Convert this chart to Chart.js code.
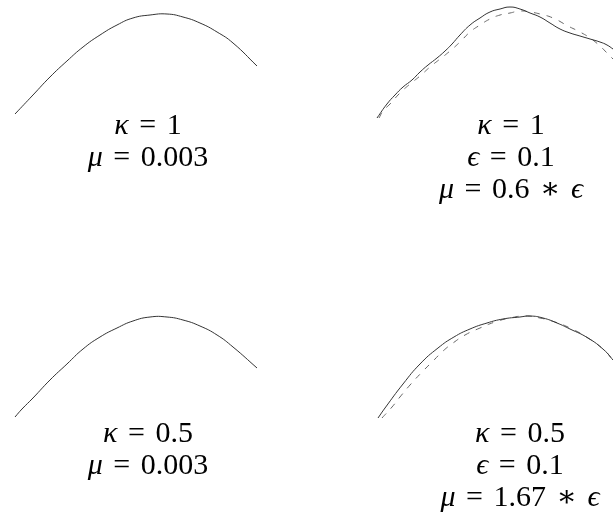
<!DOCTYPE html>
<html>
<head>
<meta charset="utf-8">
<script src="https://cdn.jsdelivr.net/npm/chart.js@4.4.1/dist/chart.umd.min.js"></script>
<style>
  html, body { margin: 0; padding: 0; background: #fff; }
  body { width: 613px; height: 518px; position: relative; overflow: hidden; }
  canvas { position: absolute; }
  .lbl {
    position: absolute; width: 260px; text-align: center;
    font-family: "Liberation Serif", "DejaVu Serif", serif;
    font-size: 30px; line-height: 32px; color: #000; white-space: nowrap;
    word-spacing: 3px;
  }
  .lbl i { font-style: italic; }
</style>
</head>
<body>
<script>
// Phase t (horizontal) and amplitude a (vertical) of each computed arc.
// Panel A: kappa = 1, mu = 0.003
const tA = [0, 0.195, 0.379, 0.563, 0.737, 0.921, 1.105, 1.278, 1.463, 1.647, 1.820, 2.004, 2.189, 2.362, 2.622];
const aA = [0, 0.19, 0.37, 0.53, 0.67, 0.79, 0.89, 0.96, 0.99, 1.00, 0.97, 0.91, 0.82, 0.71, 0.48];

// Panel B: kappa = 1, epsilon = 0.1, mu = 0.6*epsilon (two solutions)
const tB1 = [0, 0.108, 0.195, 0.282, 0.379, 0.466, 0.553, 0.650, 0.737, 0.813, 0.899, 1.008, 1.116, 1.224, 1.333, 1.441, 1.549, 1.658, 1.766, 1.874, 1.983, 2.091, 2.199, 2.308, 2.416, 2.492, 2.557];
const aB1 = [0, 0.14, 0.23, 0.31, 0.38, 0.46, 0.53, 0.60, 0.67, 0.74, 0.83, 0.93, 1.00, 1.06, 1.09, 1.11, 1.09, 1.05, 1.01, 0.95, 0.89, 0.85, 0.82, 0.79, 0.76, 0.73, 0.69];
const tB2 = [0.022, 0.065, 0.141, 0.249, 0.358, 0.466, 0.574, 0.683, 0.791, 0.899, 1.008, 1.116, 1.224, 1.333, 1.441, 1.549, 1.658, 1.766, 1.907, 2.069, 2.199, 2.308, 2.416, 2.492, 2.557];
const aB2 = [0, 0.07, 0.14, 0.25, 0.34, 0.42, 0.51, 0.59, 0.67, 0.76, 0.86, 0.93, 0.99, 1.03, 1.05, 1.07, 1.06, 1.04, 1.00, 0.92, 0.86, 0.80, 0.72, 0.65, 0.59];

// Panel C: kappa = 0.5, mu = 0.003
const tC = [0, 0.076, 0.195, 0.379, 0.563, 0.737, 0.921, 1.105, 1.278, 1.463, 1.647, 1.820, 2.004, 2.189, 2.362, 2.622];
const aC = [0, 0.08, 0.19, 0.37, 0.53, 0.68, 0.80, 0.89, 0.96, 1.00, 1.00, 0.97, 0.91, 0.82, 0.70, 0.49];

// Panel D: kappa = 0.5, epsilon = 0.1, mu = 1.67*epsilon (two solutions)
const tD1 = [0, 0.076, 0.271, 0.455, 0.650, 0.823, 0.997, 1.181, 1.354, 1.538, 1.647, 1.788, 1.939, 2.080, 2.275, 2.449, 2.546];
const aD1 = [0, 0.10, 0.34, 0.54, 0.70, 0.81, 0.89, 0.95, 0.99, 1.01, 1.02, 1.00, 0.95, 0.89, 0.80, 0.68, 0.58];
const tD2 = [0.043, 0.152, 0.238, 0.347, 0.488, 0.586, 0.705, 0.813, 0.943, 1.105, 1.268, 1.430, 1.593, 1.755, 1.918, 2.080, 2.275, 2.449, 2.546];
const aD2 = [0, 0.11, 0.21, 0.33, 0.47, 0.56, 0.67, 0.75, 0.83, 0.90, 0.96, 1.00, 1.02, 1.00, 0.96, 0.90, 0.80, 0.68, 0.58];

// Label lines for each panel
const labelsA = ['<i>κ</i> = 1', '<i>μ</i> = 0.003'];
const labelsB = ['<i>κ</i> = 1', '<i>ϵ</i> = 0.1', '<i>μ</i> = 0.6 ∗ <i>ϵ</i>'];
const labelsC = ['<i>κ</i> = 0.5', '<i>μ</i> = 0.003'];
const labelsD = ['<i>κ</i> = 0.5', '<i>ϵ</i> = 0.1', '<i>μ</i> = 1.67 ∗ <i>ϵ</i>'];

// Layout: pixel origin (t=0, a=0) of each panel and the common scale
const PX_PER_T = 92.3, PX_PER_A = 100;
const CW = 262, CH = 135, PADL = 10, PADT = 125;

function pts(t, a) { return t.map((v, i) => ({ x: v, y: a[i] })); }

function panel(ox, oy, series) {
  const cv = document.createElement('canvas');
  cv.width = CW; cv.height = CH;
  cv.style.left = (ox - PADL) + 'px';
  cv.style.top = (oy - PADT) + 'px';
  document.body.appendChild(cv);
  const xmin = -PADL / PX_PER_T, xmax = xmin + CW / PX_PER_T;
  const ymax = PADT / PX_PER_A, ymin = ymax - CH / PX_PER_A;
  new Chart(cv, {
    type: 'scatter',
    data: {
      datasets: series.map(s => ({
        data: pts(s.t, s.a),
        showLine: true,
        pointRadius: 0,
        borderWidth: 1,
        borderColor: s.dash ? '#666' : '#333',
        borderDash: s.dash || [],
        tension: 0.5,
        clip: false
      }))
    },
    options: {
      responsive: false,
      animation: false,
      events: [],
      layout: { padding: 0 },
      plugins: { legend: { display: false }, tooltip: { enabled: false } },
      scales: {
        x: { type: 'linear', display: false, min: xmin, max: xmax },
        y: { type: 'linear', display: false, min: ymin, max: ymax }
      }
    }
  });
}

function label(cx, top, lines) {
  const d = document.createElement('div');
  d.className = 'lbl';
  d.style.left = (cx - 130) + 'px';
  d.style.top = top + 'px';
  d.innerHTML = lines.join('<br>');
  document.body.appendChild(d);
}

panel(15, 114, [{ t: tA, a: aA }]);
panel(377, 118, [{ t: tB1, a: aB1 }, { t: tB2, a: aB2, dash: [6, 7] }]);
panel(15, 417, [{ t: tC, a: aC }]);
panel(378, 418, [{ t: tD1, a: aD1 }, { t: tD2, a: aD2, dash: [6, 7] }]);

label(148, 108, labelsA);
label(511, 108, labelsB);
label(148, 416, labelsC);
label(520, 416, labelsD);
</script>
</body>
</html>
